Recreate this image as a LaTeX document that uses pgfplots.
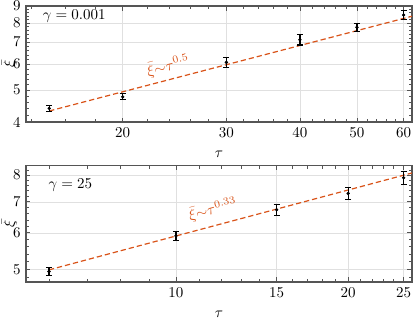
\documentclass[border=0pt]{standalone}
\usepackage{pgfplots}
\pgfplotsset{compat=1.18}
\definecolor{fitc}{HTML}{D95319}
\definecolor{framec}{HTML}{555555}
\begin{document}
\begin{tikzpicture}
\begin{axis}[
  xmode=log, ymode=log, scale only axis,
  width=257.3pt, height=77.3pt,
  at={(0pt,0pt)}, anchor=south west,
  grid=major,
  major grid style={draw=black!12, line width=0.4pt},
  axis line style={draw=framec, line width=0.9pt},
  major tick style={draw=framec, line width=0.5pt},
  minor tick style={draw=framec, line width=0.4pt},
  major tick length=3pt, minor tick length=2pt,
  xlabel={$\tau$}, ylabel={$\bar{\xi}$},
  xlabel style={yshift=-2pt},
  ylabel style={yshift=-9.5pt},
  xmin=13.7, xmax=62, ymin=4, ymax=9,
  xtick={20,30,40,50,60}, xticklabels={20,30,40,50,60},
  ytick={4,5,6,7,8,9}, yticklabels={4,5,6,7,8,9},
  minor xtick={14,16,18,22,24,26,28,32,34,36,38,42,44,46,48,52,54,56,58,62},
  minor ytick={4.2,4.4,4.6,4.8,5.2,5.4,5.6,5.8,6.2,6.4,6.6,6.8,7.2,7.4,7.6,7.8,8.2,8.4,8.6,8.8},
]
\addplot[color=fitc, line width=0.8pt, dash pattern=on 3.5pt off 2pt] coordinates {(15,4.32) (62,8.38)};
\addplot[only marks, mark=*, mark size=0.9pt, black,
  error bars/y dir=both, error bars/y explicit,
  error bars/error bar style={line width=0.8pt, black},
  error bars/error mark options={rotate=90, mark size=2pt, line width=0.8pt, black}]
  table[x=t, y=v, y error=e] {
t v e
15 4.40 0.10
20 4.77 0.10
30 6.07 0.20
40 7.11 0.26
50 7.76 0.22
60 8.45 0.25
};
\node[anchor=west] at (rel axis cs:0.03,0.91) {$\gamma = 0.001$};
\node[color=fitc, rotate=14.7] at (axis cs:23.9,5.92) {$\bar{\xi}{\sim}\tau^{0.5}$};
\end{axis}
\begin{axis}[
  xmode=log, ymode=log, scale only axis,
  width=257.3pt, height=77.5pt,
  at={(0pt,-29.1pt)}, anchor=north west,
  grid=major,
  major grid style={draw=black!12, line width=0.4pt},
  axis line style={draw=framec, line width=0.9pt},
  major tick style={draw=framec, line width=0.5pt},
  minor tick style={draw=framec, line width=0.4pt},
  major tick length=3pt, minor tick length=2pt,
  xlabel={$\tau$}, ylabel={$\bar{\xi}$},
  xlabel style={yshift=-2pt},
  ylabel style={yshift=-9.5pt},
  xmin=5.47, xmax=25.85, ymin=4.7, ymax=8.38,
  xtick={10,15,20,25}, xticklabels={10,15,20,25},
  ytick={5,6,7,8}, yticklabels={5,6,7,8},
  minor xtick={6,7,8,9,11,12,13,14,16,17,18,19,21,22,23,24},
  minor ytick={4.8,5.2,5.4,5.6,5.8,6.2,6.4,6.6,6.8,7.2,7.4,7.6,7.8,8.2},
]
\addplot[color=fitc, line width=0.8pt, dash pattern=on 3.5pt off 2pt] coordinates {(6,4.99) (25.85,8.08)};
\addplot[only marks, mark=*, mark size=0.9pt, black,
  error bars/y dir=both, error bars/y explicit,
  error bars/error bar style={line width=0.8pt, black},
  error bars/error mark options={rotate=90, mark size=2pt, line width=0.8pt, black}]
  table[x=t, y=v, y error=e] {
t v e
6 4.95 0.10
10 5.91 0.14
15 6.73 0.18
20 7.30 0.21
25 7.89 0.25
};
\node[anchor=west] at (rel axis cs:0.045,0.83) {$\gamma = 25$};
\node[color=fitc, rotate=15] at (axis cs:11.6,6.74) {$\bar{\xi}{\sim}\tau^{0.33}$};
\end{axis}
\pgfresetboundingbox
\useasboundingbox (-17.33pt,-136.67pt) rectangle (259.33pt,81.33pt);
\end{tikzpicture}
\end{document}
